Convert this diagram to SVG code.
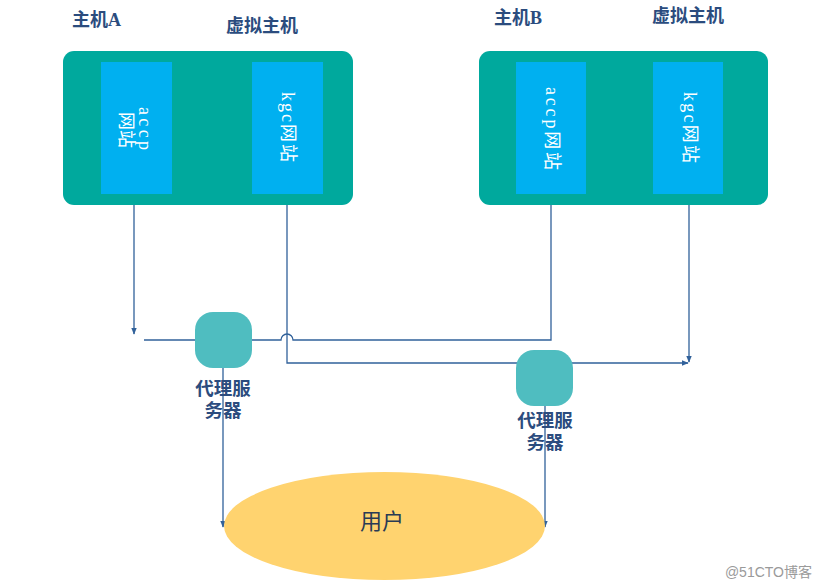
<svg xmlns="http://www.w3.org/2000/svg" width="820" height="586" viewBox="0 0 820 586">
<style>
.host{fill:#00A99D}
.site{fill:#00B0F0}
.proxy{fill:#4FBDC0}
.user{fill:#FFD36F}
.t{font-family:"Liberation Serif","Noto Sans CJK SC",serif;}
.title{font-size:18px;font-weight:bold;fill:#2B4C7E}
.st{font-size:18px;fill:#FFFFFF;dominant-baseline:central;text-anchor:middle}
.pl{font-size:18.5px;font-weight:bold;fill:#2B4C7E;text-anchor:middle}
.ln{fill:none;stroke:#31619A;stroke-width:1.3}
</style>
<defs>
<marker id="arr" viewBox="0 0 10 10" refX="9" refY="5" markerWidth="7" markerHeight="7" orient="auto" markerUnits="userSpaceOnUse">
<path d="M0,1 L10,5 L0,9 Z" fill="#31619A"/>
</marker>
</defs>

<g id="connectors">
<path class="ln" d="M134,205 V334" marker-end="url(#arr)"/>
<path class="ln" d="M144,340 H196"/>
<path class="ln" d="M250,340 H281 A6,6 0 0 1 293,340 H551 V196" marker-end="url(#arr)"/>
<path class="ln" d="M287,205 V363 H688" marker-end="url(#arr)"/>
<path class="ln" d="M689,205 V362" marker-end="url(#arr)"/>
<path class="ln" d="M223,368 V527" marker-end="url(#arr)"/>
<path class="ln" d="M545,406 V527" marker-end="url(#arr)"/>
</g>

<g id="hostA">
<rect class="host" x="63" y="51" width="290" height="154" rx="11"/>
<text class="t title" x="72" y="26">主机A</text>
</g>
<g id="vhostA-label">
<text class="t title" x="226" y="32">虚拟主机</text>
</g>
<g id="hostA-accp">
<rect class="site" x="101" y="62" width="71" height="132"/>
<text class="t st" transform="translate(145,128.5) rotate(90)" textLength="43" lengthAdjust="spacing">accp</text>
<text class="t st" transform="translate(126,130) rotate(90)" textLength="36" lengthAdjust="spacing">网站</text>
</g>
<g id="hostA-kgc">
<rect class="site" x="252" y="62" width="71" height="132"/>
<text class="t st" transform="translate(288,127) rotate(90)" textLength="70" lengthAdjust="spacing">kgc网站</text>
</g>

<g id="hostB">
<rect class="host" x="479" y="51" width="289" height="154" rx="11"/>
<text class="t title" x="494" y="24">主机B</text>
</g>
<g id="vhostB-label">
<text class="t title" x="652" y="22">虚拟主机</text>
</g>
<g id="hostB-accp">
<rect class="site" x="516" y="62" width="70" height="132"/>
<text class="t st" transform="translate(552,128.5) rotate(90)" textLength="83" lengthAdjust="spacing">accp网站</text>
</g>
<g id="hostB-kgc">
<rect class="site" x="653" y="62" width="70" height="132"/>
<text class="t st" transform="translate(690,127.5) rotate(90)" textLength="71" lengthAdjust="spacing">kgc网站</text>
</g>

<g id="proxy1">
<rect class="proxy" x="195" y="312" width="57" height="56" rx="18"/>
<text class="t pl" x="223" y="395">代理服</text>
<text class="t pl" x="223" y="417">务器</text>
</g>
<g id="proxy2">
<rect class="proxy" x="516" y="350" width="57" height="56" rx="18"/>
<text class="t pl" x="545" y="427">代理服</text>
<text class="t pl" x="545" y="449">务器</text>
</g>

<g id="user">
<ellipse class="user" cx="384.5" cy="526" rx="160.5" ry="54"/>
<text class="t" x="382" y="529" font-size="22" fill="#2A3B55" text-anchor="middle">用户</text>
</g>

<text x="812" y="577" font-family="Liberation Sans,'Noto Sans CJK SC',sans-serif" font-size="14" fill="#9A9A9A" text-anchor="end">@51CTO博客</text>
</svg>
